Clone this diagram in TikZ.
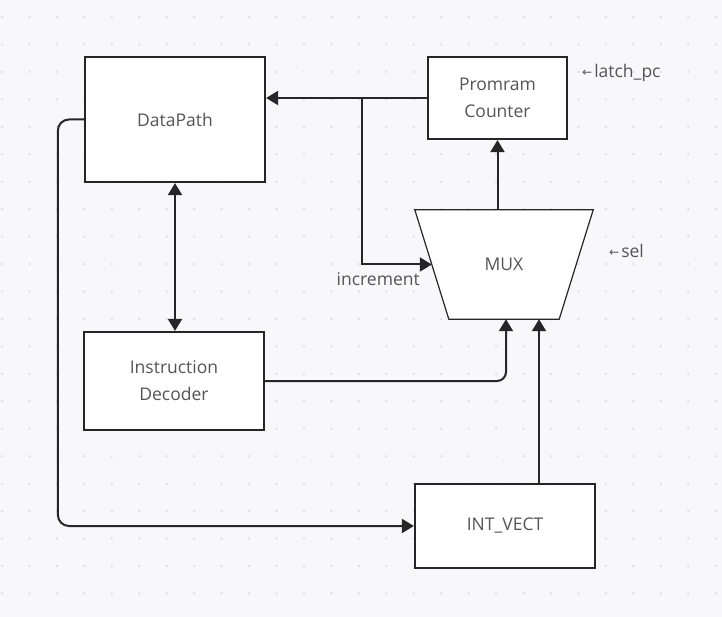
\documentclass[tikz,border=0pt]{standalone}
\usepackage{fontspec}
\setmainfont{Open Sans}
\newfontfamily\symfont{DejaVu Sans}
\usetikzlibrary{arrows.meta,positioning}
\definecolor{bgcol}{HTML}{F8F8FA}
\definecolor{dotcol}{HTML}{E0E1E4}
\definecolor{txtcol}{HTML}{555555}
\tikzset{
  block/.style={draw=black!85, line width=2.2pt, fill=white, inner sep=0pt,
    align=center, text=txtcol, font=\fontsize{17.5}{27}\selectfont},
  muxbox/.style={inner sep=0pt, minimum width=178pt, minimum height=109pt,
    text=txtcol, font=\fontsize{17.5}{20}\selectfont},
  muxline/.style={draw=black!85, line width=1.2pt, fill=white, line join=miter},
  arw/.style={line width=2pt, draw=black!85, -{Triangle[length=12pt,width=14pt]}},
  lbl/.style={text=txtcol, font=\fontsize{17.5}{20}\selectfont, inner sep=0pt},
}
\newcommand{\larr}{{\symfont\fontsize{12}{12}\selectfont\raisebox{1pt}{←}}\kern2pt}
\begin{document}
\begin{tikzpicture}[x=1pt, y=-1pt]
  % background and dotted grid
  \fill[bgcol] (0,0) rectangle (722,617);
  \useasboundingbox (0,0) rectangle (722,617);
  \foreach \i in {0,...,26}
    \foreach \j in {0,...,21}
      \fill[dotcol] (2+27.45*\i, 17+27.45*\j) circle (1.4pt);

  % blocks
  \node [block, minimum width=180pt, minimum height=125pt](dp) at (175,119.5) {DataPath};
  \node [block, minimum width=139pt, minimum height=82pt](pc) at (497.5,98) {Promram\\Counter};
  \node [block, minimum width=180pt, minimum height=98pt](id) at (174,381) {Instruction\\Decoder};
  \node [block, minimum width=180pt, minimum height=84pt](iv) at (505,526) {INT\_VECT};

  % mux, trapezium drawn on the node's corners
  \node [muxbox](mux) at (504,264.5) {};
  \draw[muxline] (mux.north west) -- (mux.north east) -- ([xshift=-34pt]mux.south east)
    -- ([xshift=34pt]mux.south west) -- cycle;
  \node [lbl] at (mux.center) {MUX};

  % labels
  \node [lbl, anchor=east](inc) at (420,279) {increment};
  \node [lbl, anchor=west](lpc) at (582,73) {\larr latch\_pc};
  \node [lbl, anchor=west](sel) at (609,251) {\larr sel};

  % tap points
  \coordinate (tap) at ([xshift=-65pt]pc.west);
  \coordinate (muxin) at ([xshift=17pt]mux.west);
  \coordinate (idin) at ([xshift=2pt]mux.south);
  \coordinate (ivout) at ([xshift=34pt]iv.north);

  % connectors
  \draw[arw] (pc.west) -- (dp.east |- pc.west);
  \draw[arw] (tap) |- (muxin);
  \draw[arw] (mux.north -| pc.south) -- (pc.south);
  \draw[arw, {Triangle[length=12pt,width=14pt]}-{Triangle[length=12pt,width=14pt]}] (dp.south) -- (dp.south |- id.north);
  \draw[arw, rounded corners=9pt] (id.east) -| (idin);
  \draw[arw] (ivout) -- (ivout |- mux.south);
  \draw[arw, rounded corners=11pt] (dp.west) -- ++(-26,0) |- (iv.west);
\end{tikzpicture}
\end{document}
